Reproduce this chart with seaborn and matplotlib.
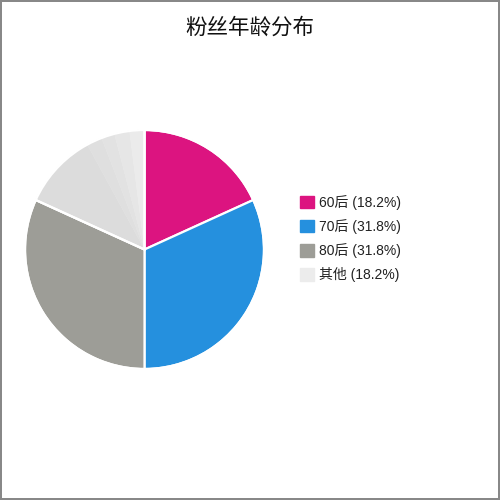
import matplotlib
matplotlib.use("Agg")
import matplotlib.pyplot as plt
import seaborn as sns
from matplotlib.patches import Patch

# age groups of fans
groups = ["60后", "70后", "80后", "其他"]
shares = [18.2, 31.8, 31.8, 18.2]
colors = ["#dc1480", "#2590de", "#9d9d97", "#ececec"]

# the "其他" slice is drawn as a few thin grey pieces
other_parts = [10.25, 2.1, 1.8, 2.05, 2.0]
other_colors = ["#dcdcdc", "#dfdfdf", "#e2e2e2", "#e6e6e6", "#ebebeb"]

sns.set_theme(style="white")
plt.rcParams["font.family"] = ["Liberation Sans", "Noto Sans CJK SC", "DejaVu Sans"]

fig = plt.figure(figsize=(5, 5), dpi=100)
fig.patch.set_facecolor("white")
fig.patch.set_edgecolor("#888888")
fig.patch.set_linewidth(1.5)

ax = fig.add_axes([0.05, 0.262, 0.478, 0.478])
vals = shares[:3] + other_parts
cols = colors[:3] + other_colors
wedges, _ = ax.pie(vals, colors=cols, startangle=90, counterclock=False,
                   wedgeprops=dict(linewidth=0))
for i, w in enumerate(wedges):
    if i < 3:
        w.set_edgecolor("white")
        w.set_linewidth(1.6)
    else:
        w.set_edgecolor(cols[i])
        w.set_linewidth(0.3)
# white separators between the big slices and the grey group
ax.pie([sum(shares[:3]), shares[3]], colors=["none", "none"], startangle=90,
       counterclock=False, wedgeprops=dict(linewidth=1.6, edgecolor="white", fill=False))
ax.set_aspect("equal")
ax.set_xlim(-1, 1)
ax.set_ylim(-1, 1)

fig.text(0.5, 0.944, "粉丝年龄分布", ha="center", va="center", fontsize=15.5, color="#111111")

handles = [Patch(facecolor=c, edgecolor=c) for c in colors]
labels = [f"{g} ({s:.1f}%)" for g, s in zip(groups, shares)]
fig.legend(handles, labels, loc="upper left", bbox_to_anchor=(0.6, 0.61),
           frameon=False, fontsize=10, handlelength=1.0, handleheight=1.0,
           handletextpad=0.4, labelspacing=0.66, borderpad=0, borderaxespad=0,
           labelcolor="#222222")

fig.savefig("out.png", dpi=100, facecolor=fig.get_facecolor(), edgecolor=fig.get_edgecolor())
